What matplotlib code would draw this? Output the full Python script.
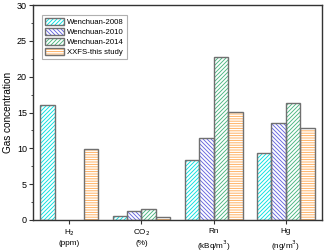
import matplotlib
matplotlib.use("Agg")
import matplotlib.pyplot as plt
import numpy as np
from matplotlib.patches import Patch
from matplotlib.legend_handler import HandlerTuple

plt.rcParams['font.family'] = ['Liberation Sans', 'DejaVu Sans']
plt.rcParams['hatch.linewidth'] = 0.95

categories = ["H$_2$\n(ppm)", "CO$_2$\n(%)", "Rn\n(kBq/m$^3$)", "Hg\n(ng/m$^3$)"]
series_names = ["Wenchuan-2008", "Wenchuan-2010", "Wenchuan-2014", "XXFS-this study"]
w2008 = [16.0, 0.6, 8.4, 9.4]
w2010 = [0.0, 1.3, 11.4, 13.5]
w2014 = [0.0, 1.5, 22.8, 16.3]
xxfs = [9.9, 0.4, 15.1, 12.9]
series = [w2008, w2010, w2014, xxfs]

colors = ["#10E0E0", "#6A6ADF", "#4FB884", "#FFB060"]
hatches = ["/" * 6, "\\" * 6, "/" * 6, "-" * 5]
edge = "#707070"

fig = plt.figure(figsize=(4.5, 3.5), dpi=72)
ax = fig.add_axes([0.102, 0.127, 0.892, 0.853])

x = np.arange(len(categories))
bw = 0.2
handles = []
for i, (vals, c, h) in enumerate(zip(series, colors, hatches)):
    pos = x + (i - 1.5) * bw
    v = np.array(vals)
    mask = v > 0
    ax.bar(pos[mask], v[mask], bw, color="white", edgecolor=c, hatch=h, linewidth=0, zorder=2)
    ax.bar(pos[mask], v[mask], bw, fill=False, edgecolor=edge, linewidth=1.4, zorder=3)
    hp = Patch(facecolor="white", edgecolor=c, hatch=h, linewidth=0)
    op = Patch(fill=False, edgecolor=edge, linewidth=1.4)
    handles.append((hp, op))

ax.set_xlim(-0.5, 3.5)
ax.set_ylim(0, 30)
ax.set_xticks(x)
ax.set_xticklabels(categories, fontsize=8.1, linespacing=1.35)
ax.set_yticks(np.arange(0, 31, 5))
ax.set_yticks(np.arange(0, 30.1, 2.5), minor=True)
ax.tick_params(axis='y', which='major', labelsize=9, length=4.2, width=1.1, direction='out', colors='#333333', labelcolor='black', pad=2)
ax.tick_params(axis='y', which='minor', length=2.5, width=0.85, direction='out', colors='#333333')
ax.tick_params(axis='x', which='major', length=4.2, width=1.1, direction='out', colors='#333333', labelcolor='black', pad=3.5)
ax.set_ylabel("Gas concentration", fontsize=10, labelpad=4)
for s in ax.spines.values():
    s.set_color('#333333')
    s.set_linewidth(1.4)

leg = ax.legend(handles, series_names, handler_map={tuple: HandlerTuple(ndivide=1)},
                loc='upper left', bbox_to_anchor=(0.031, 0.953), fontsize=7.8,
                fancybox=False, edgecolor='#b0b0b0', framealpha=1,
                handlelength=2.5, handleheight=1.1, labelspacing=0.2,
                handletextpad=0.4, borderpad=0.35, borderaxespad=0)
leg.get_frame().set_linewidth(1.1)

fig.savefig("out.png", dpi=72)
